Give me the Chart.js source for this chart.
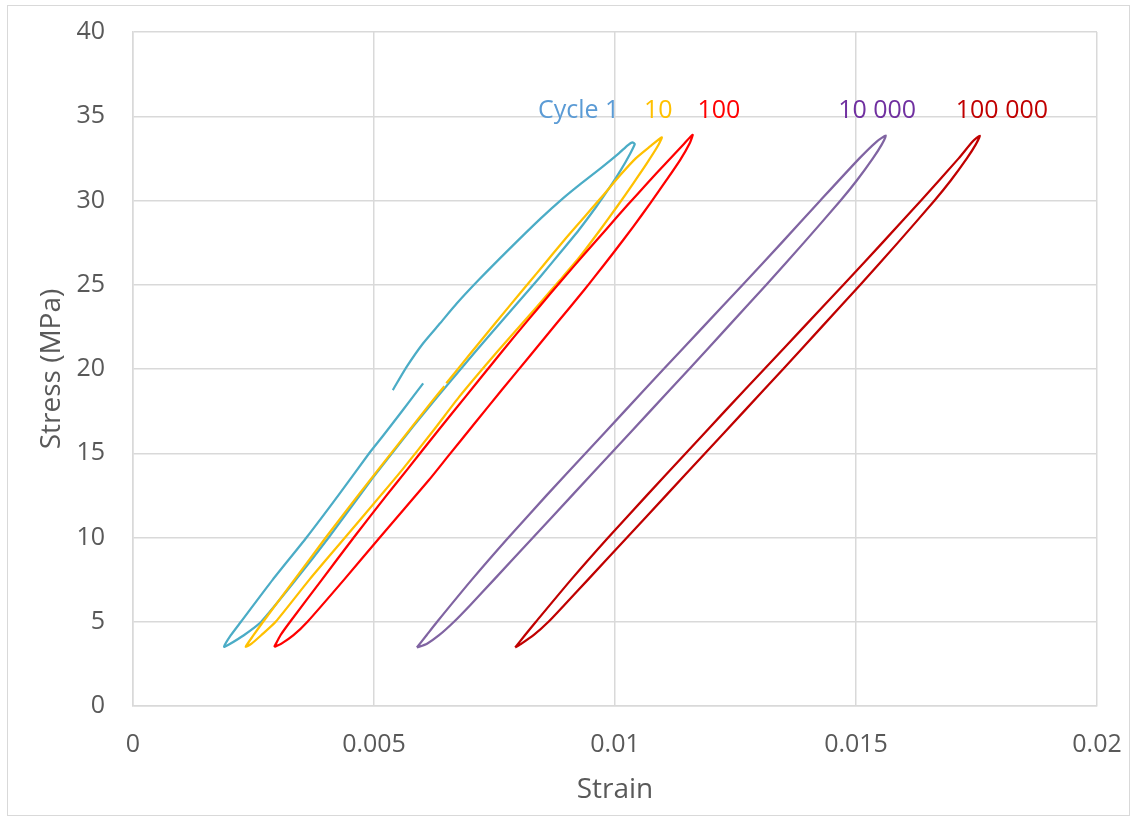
<!DOCTYPE html>
<html>
<head>
<meta charset="utf-8">
<title>Stress-strain loops</title>
<script src="https://cdn.jsdelivr.net/npm/chart.js@4.4.1/dist/chart.umd.min.js"></script>
<style>
    html, body { margin: 0; padding: 0; background: #ffffff; }
    #frame { position: absolute; left: 7px; top: 5px; width: 1121px; height: 809px; border: 1px solid #d9d9d9; }
    #myChart { position: absolute; left: 0; top: 0; }
</style>
</head>
<body>
<div id="frame"></div>
<canvas id="myChart" width="1137" height="822"></canvas>
<script>
// Axis ticks
const xTickValues = [0, 0.005, 0.01, 0.015, 0.02];
const xTickLabels = ['0', '0.005', '0.01', '0.015', '0.02'];
const yTickValues = [0, 5, 10, 15, 20, 25, 30, 35, 40];
const yTickLabels = ['0', '5', '10', '15', '20', '25', '30', '35', '40'];

// Cycle 1 (starts at mean stress, goes up, down, and back up)
const cycle1Strain = [0.00539, 0.00568, 0.00602, 0.00637, 0.00672, 0.00717, 0.00780, 0.00846, 0.00892, 0.00930,
    0.00970, 0.01008, 0.01027, 0.01036, 0.01041, 0.01030, 0.01012, 0.00990, 0.00961, 0.00925,
    0.00891, 0.00845, 0.00791, 0.00737, 0.00687, 0.00632, 0.00581, 0.00532, 0.00494, 0.00406,
    0.00338, 0.00266, 0.00230, 0.00199, 0.00189, 0.00203, 0.00224, 0.00290, 0.00360, 0.00426,
    0.00490, 0.00520, 0.00560, 0.00602];
const cycle1Stress = [18.75, 20.14, 21.53, 22.71, 23.90, 25.28, 27.10, 28.94, 30.13, 31.02,
    31.91, 32.80, 33.29, 33.45, 33.35, 32.70, 31.80, 30.82, 29.63, 28.25,
    27.06, 25.48, 23.70, 21.92, 20.24, 18.36, 16.58, 14.80, 13.41, 10.0,
    7.5, 5.0, 4.2, 3.65, 3.52, 4.2, 5.0, 7.5, 10.0, 12.5,
    15.0, 16.08, 17.57, 19.15];

// Cycle 10
const cycle10Strain = [0.00650, 0.00678, 0.00723, 0.00780, 0.00826, 0.00849, 0.00895, 0.00937, 0.00976, 0.01011,
    0.01043, 0.01072, 0.01097, 0.01090, 0.01066, 0.01038, 0.01004, 0.00969, 0.00927, 0.00886,
    0.00838, 0.00783, 0.00732, 0.00677, 0.00624, 0.00558, 0.00514, 0.00440, 0.00366, 0.00296,
    0.00266, 0.00246, 0.00234, 0.00250, 0.00270, 0.00335, 0.00400, 0.00467, 0.00519, 0.00568,
    0.00617, 0.00646];
const cycle10Stress = [19.15, 20.14, 21.72, 23.70, 25.28, 26.07, 27.66, 29.04, 30.33, 31.51,
    32.50, 33.19, 33.75, 33.29, 32.20, 31.02, 29.63, 28.25, 26.66, 25.28,
    23.70, 21.92, 20.24, 18.36, 16.38, 14.00, 12.50, 10.0, 7.5, 5.0,
    4.2, 3.7, 3.52, 4.2, 5.0, 7.5, 10.0, 12.5, 14.4, 16.18,
    17.96, 18.98];

// Cycle 100
const cycle100Strain = [0.00293, 0.00306, 0.00326, 0.00392, 0.00458, 0.00526, 0.00568, 0.00634, 0.00690, 0.00743,
    0.00791, 0.00843, 0.00890, 0.00938, 0.00982, 0.01026, 0.01067, 0.01105, 0.01141, 0.01161,
    0.01155, 0.01135, 0.01107, 0.01073, 0.01038, 0.00996, 0.00958, 0.00936, 0.00879, 0.00822,
    0.00765, 0.00709, 0.00653, 0.00614, 0.00512, 0.00438, 0.00362, 0.00333, 0.00308, 0.00293];
const cycle100Stress = [3.50, 4.2, 5.0, 7.5, 10.0, 12.5, 14.0, 16.38, 18.36, 20.24,
    21.92, 23.70, 25.28, 26.87, 28.30, 29.73, 31.02, 32.20, 33.29, 33.90,
    33.40, 32.40, 31.22, 29.83, 28.45, 26.87, 25.48, 24.69, 22.71, 20.73,
    18.75, 16.78, 14.80, 13.41, 10.0, 7.5, 5.0, 4.2, 3.7, 3.50];

// Cycle 10 000
const cycle10kStrain = [0.00589, 0.00609, 0.00631, 0.00703, 0.00779, 0.00858, 0.00939, 0.01020, 0.01101, 0.01183,
    0.01265, 0.01346, 0.01426, 0.01507, 0.01543, 0.01562, 0.01553, 0.01535, 0.01502, 0.01468,
    0.01392, 0.01314, 0.01234, 0.01154, 0.01073, 0.00992, 0.00911, 0.00830, 0.00749, 0.00700,
    0.00666, 0.00635, 0.00610, 0.00589];
const cycle10kStress = [3.47, 4.2, 5.0, 7.5, 10.0, 12.5, 15.0, 17.5, 20.0, 22.5,
    25.0, 27.5, 30.0, 32.5, 33.5, 33.85, 33.3, 32.5, 31.2, 30.0,
    27.5, 25.0, 22.5, 20.0, 17.5, 15.0, 12.5, 10.0, 7.5, 6.0,
    5.0, 4.2, 3.7, 3.47];

// Cycle 100 000
const cycle100kStrain = [0.00793, 0.00813, 0.00836, 0.00909, 0.00986, 0.01066, 0.01147, 0.01228, 0.01310, 0.01392,
    0.01474, 0.01555, 0.01635, 0.01713, 0.01742, 0.01757, 0.01748, 0.01730, 0.01697, 0.01663,
    0.01587, 0.01509, 0.01429, 0.01349, 0.01268, 0.01187, 0.01106, 0.01025, 0.00944, 0.00895,
    0.00862, 0.00831, 0.00806, 0.00793];
const cycle100kStress = [3.47, 4.2, 5.0, 7.5, 10.0, 12.5, 15.0, 17.5, 20.0, 22.5,
    25.0, 27.5, 30.0, 32.5, 33.5, 33.85, 33.3, 32.5, 31.2, 30.0,
    27.5, 25.0, 22.5, 20.0, 17.5, 15.0, 12.5, 10.0, 7.5, 6.0,
    5.0, 4.2, 3.7, 3.47];

// Text labels placed on the plot (left edge / baseline in data units)
const labelTexts = ['Cycle 1', '10', '100', '10 000', '100 000'];
const labelStrain = [0.0084, 0.0106, 0.01171, 0.01463, 0.01707];
const labelStress = [34.9, 34.9, 34.9, 34.9, 34.9];
const labelColors = ['#5B9BD5', '#FFC000', '#FF0000', '#7030A0', '#C00000'];

function toPoints(xs, ys) {
    return xs.map((x, i) => ({ x: x, y: ys[i] }));
}

function loop(label, xs, ys, color) {
    return {
        label: label,
        data: toPoints(xs, ys),
        borderColor: color,
        backgroundColor: color,
        borderWidth: 2.25,
        showLine: true,
        pointRadius: 0,
        tension: 0.2,
        fill: false
    };
}

const fontFamily = "'Open Sans', 'DejaVu Sans', sans-serif";
const textGray = '#595959';
const gridGray = '#d9d9d9';

// Draws the cycle labels through the chart's scales
const cycleLabels = {
    id: 'cycleLabels',
    afterDatasetsDraw(chart) {
        const ctx = chart.ctx;
        const xs = chart.scales.x;
        const ys = chart.scales.y;
        ctx.save();
        ctx.font = '25px ' + fontFamily;
        ctx.textAlign = 'left';
        ctx.textBaseline = 'alphabetic';
        labelTexts.forEach((t, i) => {
            ctx.fillStyle = labelColors[i];
            ctx.fillText(t, xs.getPixelForValue(labelStrain[i]), ys.getPixelForValue(labelStress[i]));
        });
        ctx.restore();
    }
};

var ctx = document.getElementById('myChart').getContext('2d');

var myChart = new Chart(ctx, {
    type: 'scatter',
    data: {
        datasets: [
            loop('100 000', cycle100kStrain, cycle100kStress, '#C00000'),
            loop('10 000', cycle10kStrain, cycle10kStress, '#8064A2'),
            loop('100', cycle100Strain, cycle100Stress, '#FF0000'),
            loop('10', cycle10Strain, cycle10Stress, '#FFC000'),
            loop('Cycle 1', cycle1Strain, cycle1Stress, '#4BACC6')
        ]
    },
    options: {
        responsive: false,
        animation: false,
        layout: { padding: { left: 31, right: 40, top: 32, bottom: 11 } },
        plugins: {
            legend: { display: false },
            tooltip: { enabled: false }
        },
        scales: {
            x: {
                type: 'linear',
                min: 0,
                max: 0.02,
                afterFit: function (axis) {
                    // fixed box so the plot area lands where the original is
                    axis.height = 105;
                    axis.paddingLeft = 0;
                    axis.paddingRight = 0;
                },
                afterBuildTicks: function (axis) {
                    axis.ticks = xTickValues.map(v => ({ value: v }));
                },
                ticks: {
                    padding: 24,
                    color: textGray,
                    font: { family: fontFamily, size: 25 },
                    callback: function (value, index) { return xTickLabels[index]; }
                },
                grid: { color: gridGray, lineWidth: 1.5, drawTicks: false },
                border: { color: gridGray, width: 1.5 },
                title: {
                    display: true,
                    text: 'Strain',
                    color: textGray,
                    font: { family: fontFamily, size: 28 }
                }
            },
            y: {
                type: 'linear',
                min: 0,
                max: 40,
                afterFit: function (axis) {
                    axis.width = 102;
                    axis.paddingTop = 0;
                    axis.paddingBottom = 0;
                },
                afterBuildTicks: function (axis) {
                    axis.ticks = yTickValues.map(v => ({ value: v }));
                },
                ticks: {
                    padding: 28,
                    color: textGray,
                    font: { family: fontFamily, size: 25 },
                    callback: function (value, index) { return yTickLabels[index]; }
                },
                grid: { color: gridGray, lineWidth: 1.5, drawTicks: false },
                border: { color: gridGray, width: 1.5 },
                title: {
                    display: true,
                    text: 'Stress (MPa)',
                    color: textGray,
                    font: { family: fontFamily, size: 28 }
                }
            }
        }
    },
    plugins: [cycleLabels]
});
</script>
</body>
</html>
